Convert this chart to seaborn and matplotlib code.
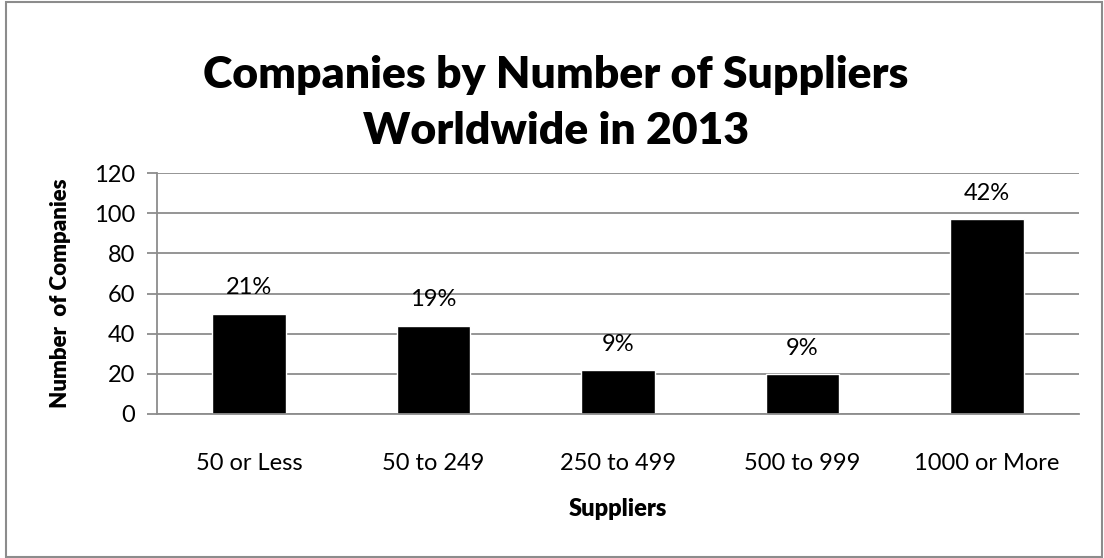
import matplotlib
matplotlib.use("Agg")
import matplotlib.pyplot as plt
import seaborn as sns
import pandas as pd
from matplotlib.patches import Rectangle

categories = ["50 or Less", "50 to 249", "250 to 499", "500 to 999", "1000 or More"]
companies = [50, 44, 22, 20, 97]
share_labels = ["21%", "19%", "9%", "9%", "42%"]

sns.set_theme(style="white")
plt.rcParams["font.family"] = ["Lato", "DejaVu Sans"]
plt.rcParams["text.color"] = "black"
plt.rcParams["axes.labelcolor"] = "black"

df = pd.DataFrame({"Suppliers": categories, "Companies": companies})

fig = plt.figure(figsize=(11.04, 5.58), dpi=100)
ax = fig.add_axes([157 / 1104, 1 - 414 / 558, (1079 - 157) / 1104, (414 - 173) / 558])

sns.barplot(data=df, x="Suppliers", y="Companies", color="black",
            width=0.40, saturation=1, ax=ax)

ax.set_ylim(0, 120)
ax.set_yticks(range(0, 121, 20))
ax.set_xlim(-0.5, len(categories) - 0.5)
ax.yaxis.grid(True, color="#8c8c8c", linewidth=1.3)
ax.set_axisbelow(True)
for side in ("top", "right"):
    ax.spines[side].set_visible(False)
for side in ("left", "bottom"):
    ax.spines[side].set_color("#8c8c8c")
    ax.spines[side].set_linewidth(1.3)

ax.tick_params(axis="y", left=True, length=7, width=1.3, color="#8c8c8c",
               labelsize=17, pad=9, labelcolor="black")
ax.tick_params(axis="x", bottom=False, labelsize=17, pad=22, labelcolor="black")

ax.set_xlabel("Suppliers", fontsize=17, fontweight="heavy", labelpad=17)
ax.set_ylabel("Number  of Companies", fontsize=16, fontweight="heavy", labelpad=16)

for i, (v, lab) in enumerate(zip(companies, share_labels)):
    ax.annotate(lab, (i, v), xytext=(0, 11), textcoords="offset points",
                ha="center", va="bottom", fontsize=17, color="black")

fig.text(556 / 1104, 1 - 75 / 558, "Companies by Number of Suppliers", ha="center",
         va="center", fontsize=32, fontweight="heavy")
fig.text(556 / 1104, 1 - 131 / 558, "Worldwide in 2013", ha="center",
         va="center", fontsize=32, fontweight="heavy")

fig.add_artist(Rectangle((6 / 1104, 1 / 558), 1096 / 1104, 555 / 558,
                         transform=fig.transFigure, fill=False,
                         edgecolor="#8c8c8c", linewidth=1.5))

fig.savefig("out.png", dpi=100)
